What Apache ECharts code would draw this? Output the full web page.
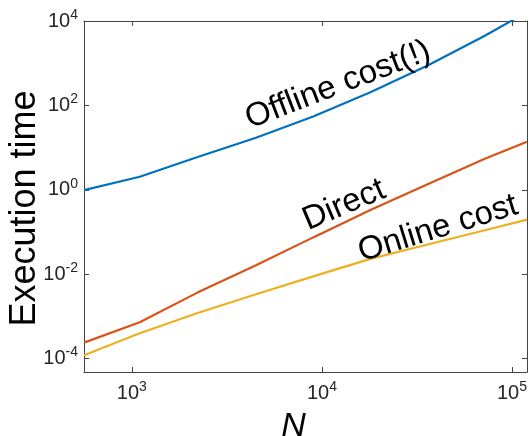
<!DOCTYPE html>
<html>
<head>
<meta charset="utf-8">
<title>Execution time vs N</title>
<script src="https://cdn.jsdelivr.net/npm/echarts@6/dist/echarts.min.js"></script>
<style>
  html, body { margin: 0; padding: 0; background: #fff; }
  #chart { width: 530px; height: 436px; }
</style>
</head>
<body>
<div id="chart"></div>
<script>
// Problem sizes
const N = [560, 1100, 2200, 4500, 9000, 18000, 36000, 72000, 120000];

// Measured execution times (seconds)
const offlineCost = [0.98, 2.04, 5.91, 17.1, 54.6, 204, 885, 4480, 16300];
const directCost  = [2.39e-4, 7.26e-4, 3.61e-3, 0.0162, 0.0745, 0.330, 1.35, 5.42, 13.7];
const onlineCost  = [1.20e-4, 3.98e-4, 1.19e-3, 3.35e-3, 8.85e-3, 0.0230, 0.0505, 0.110, 0.196];

// Axis ticks (powers of ten)
const xTicks = [1e3, 1e4, 1e5];
const yTicks = [1e-4, 1e-2, 1e0, 1e2, 1e4];

// Curve annotations
const seriesNames = ['Offline cost(!)', 'Direct', 'Online cost'];

const FONT = '"Liberation Sans", Arial, Helvetica, sans-serif';
const AXIS_COLOR = '#444';
const TEXT_COLOR = '#262626';

function pow10Label(v) {
  const e = Math.round(Math.log10(v));
  return '{b|10}{s|' + e + '}';
}

const labelRich = {
  b: { fontSize: 20, lineHeight: 26, fontFamily: FONT, color: TEXT_COLOR },
  s: { fontSize: 14, lineHeight: 12, verticalAlign: 'top', fontFamily: FONT, color: TEXT_COLOR }
};

const xMin = 560, xMax = 120000;
const yMin = Math.pow(10, -4.318), yMax = 1e4;

function pairs(ys) { return N.map((n, i) => [n, ys[i]]); }

function curveNote(text, coord, angle) {
  return {
    symbol: 'circle',
    symbolSize: 0,
    silent: true,
    data: [{ coord: coord }],
    label: {
      show: true,
      position: 'inside',
      formatter: text,
      rotate: angle,
      fontSize: 33,
      fontFamily: FONT,
      color: '#000'
    }
  };
}

const chart = echarts.init(document.getElementById('chart'), null, { renderer: 'canvas' });

const option = {
  animation: false,
  backgroundColor: '#fff',
  grid: { left: 84, right: 3, top: 21, bottom: 64, containLabel: false, outerBoundsMode: 'none' },
  xAxis: [
    {
      type: 'log', logBase: 10, min: xMin, max: xMax,
      name: 'N', nameLocation: 'middle', nameGap: 38, nameMoveOverlap: false,
      nameTextStyle: { fontSize: 34, fontStyle: 'italic', fontFamily: FONT, color: '#000', padding: [0, 24, 0, 0] },
      axisLine: { show: true, lineStyle: { color: AXIS_COLOR, width: 1 } },
      axisTick: { show: true, inside: true, length: 5, customValues: xTicks, lineStyle: { color: AXIS_COLOR } },
      minorTick: { show: false },
      axisLabel: { show: true, margin: 8, customValues: xTicks, formatter: pow10Label, rich: labelRich },
      splitLine: { show: false }
    },
    {
      type: 'log', logBase: 10, min: xMin, max: xMax, position: 'top',
      axisLine: { show: true, lineStyle: { color: AXIS_COLOR, width: 1 } },
      axisTick: { show: true, inside: true, length: 5, customValues: xTicks, lineStyle: { color: AXIS_COLOR } },
      axisLabel: { show: false },
      splitLine: { show: false }
    }
  ],
  yAxis: [
    {
      type: 'log', logBase: 10, min: yMin, max: yMax,
      name: 'Execution time', nameLocation: 'middle', nameGap: 41, nameMoveOverlap: false,
      nameTextStyle: { fontSize: 36, fontFamily: FONT, color: '#000', padding: [0, 24, 0, 0] },
      axisLine: { show: true, lineStyle: { color: AXIS_COLOR, width: 1 } },
      axisTick: { show: true, inside: true, length: 5, customValues: yTicks, lineStyle: { color: AXIS_COLOR } },
      minorTick: { show: false },
      axisLabel: { show: true, margin: 6, customValues: yTicks, formatter: pow10Label, rich: labelRich },
      splitLine: { show: false }
    },
    {
      type: 'log', logBase: 10, min: yMin, max: yMax, position: 'right',
      axisLine: { show: true, lineStyle: { color: AXIS_COLOR, width: 1 } },
      axisTick: { show: true, inside: true, length: 5, customValues: yTicks, lineStyle: { color: AXIS_COLOR } },
      axisLabel: { show: false },
      splitLine: { show: false }
    }
  ],
  series: [
    {
      name: seriesNames[0], type: 'line', data: pairs(offlineCost),
      showSymbol: false, clip: true,
      lineStyle: { color: '#0072BD', width: 2.2 },
      itemStyle: { color: '#0072BD' },
      markPoint: curveNote(seriesNames[0], [12160, 303], 21)
    },
    {
      name: seriesNames[1], type: 'line', data: pairs(directCost),
      showSymbol: false, clip: true,
      lineStyle: { color: '#D95319', width: 2.2 },
      itemStyle: { color: '#D95319' },
      markPoint: curveNote(seriesNames[1], [13090, 0.433], 23)
    },
    {
      name: seriesNames[2], type: 'line', data: pairs(onlineCost),
      showSymbol: false, clip: true,
      lineStyle: { color: '#EDB120', width: 2.2 },
      itemStyle: { color: '#EDB120' },
      markPoint: curveNote(seriesNames[2], [40800, 0.1197], 17)
    }
  ]
};

chart.setOption(option);
</script>
</body>
</html>
